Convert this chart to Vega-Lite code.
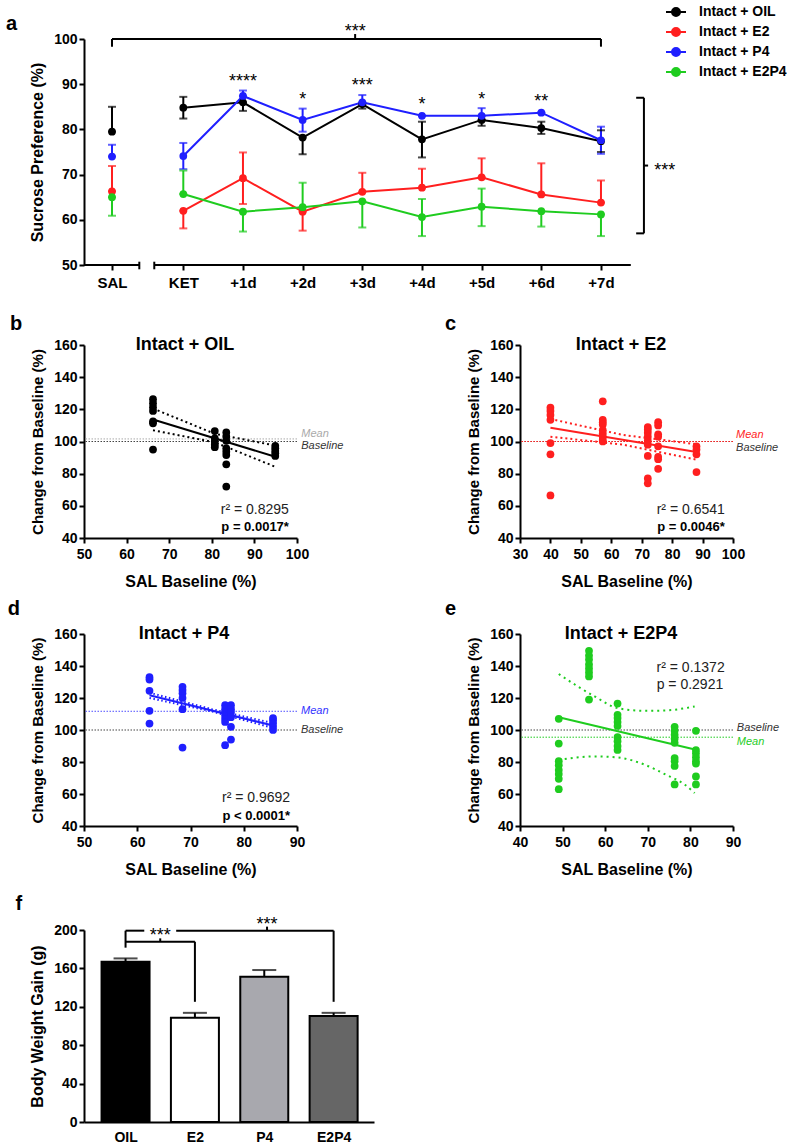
{
  "$schema": "https://vega.github.io/schema/vega-lite/v6.json",
  "background": "white",
  "padding": {"left": 5, "top": 5, "right": 0, "bottom": 0},
  "columns": 2,
  "align": "none",
  "bounds": "flush",
  "spacing": {"row": 0, "column": 146},
  "datasets": {
    "a": [
      {"g": "Intact + OIL", "d": -1, "m": 79.5, "lo": 79.5, "hi": 85.0},
      {"g": "Intact + OIL", "d": 0, "m": 84.8, "lo": 82.4, "hi": 87.2},
      {"g": "Intact + OIL", "d": 1, "m": 86.0, "lo": 84.1, "hi": 86.0},
      {"g": "Intact + OIL", "d": 2, "m": 78.2, "lo": 74.5, "hi": 78.2},
      {"g": "Intact + OIL", "d": 3, "m": 85.6, "lo": 84.6, "hi": 85.6},
      {"g": "Intact + OIL", "d": 4, "m": 77.8, "lo": 73.8, "hi": 81.7},
      {"g": "Intact + OIL", "d": 5, "m": 82.1, "lo": 80.8, "hi": 82.1},
      {"g": "Intact + OIL", "d": 6, "m": 80.3, "lo": 79.0, "hi": 81.7},
      {"g": "Intact + OIL", "d": 7, "m": 77.4, "lo": 75.0, "hi": 79.8},
      {"g": "Intact + E2", "d": -1, "m": 66.3, "lo": 66.3, "hi": 71.9},
      {"g": "Intact + E2", "d": 0, "m": 62.0, "lo": 58.1, "hi": 62.0},
      {"g": "Intact + E2", "d": 1, "m": 69.2, "lo": 63.5, "hi": 74.9},
      {"g": "Intact + E2", "d": 2, "m": 61.8, "lo": 57.6, "hi": 61.8},
      {"g": "Intact + E2", "d": 3, "m": 66.2, "lo": 66.2, "hi": 70.4},
      {"g": "Intact + E2", "d": 4, "m": 67.1, "lo": 67.1, "hi": 71.3},
      {"g": "Intact + E2", "d": 5, "m": 69.4, "lo": 69.4, "hi": 73.6},
      {"g": "Intact + E2", "d": 6, "m": 65.6, "lo": 65.6, "hi": 72.5},
      {"g": "Intact + E2", "d": 7, "m": 63.8, "lo": 63.8, "hi": 68.7},
      {"g": "Intact + P4", "d": -1, "m": 74.0, "lo": 74.0, "hi": 76.6},
      {"g": "Intact + P4", "d": 0, "m": 74.1, "lo": 71.2, "hi": 77.0},
      {"g": "Intact + P4", "d": 1, "m": 87.4, "lo": 87.4, "hi": 88.6},
      {"g": "Intact + P4", "d": 2, "m": 82.1, "lo": 79.5, "hi": 84.6},
      {"g": "Intact + P4", "d": 3, "m": 86.0, "lo": 86.0, "hi": 87.6},
      {"g": "Intact + P4", "d": 4, "m": 83.0, "lo": 83.0, "hi": 83.0},
      {"g": "Intact + P4", "d": 5, "m": 83.0, "lo": 83.0, "hi": 84.7},
      {"g": "Intact + P4", "d": 6, "m": 83.7, "lo": 83.7, "hi": 83.7},
      {"g": "Intact + P4", "d": 7, "m": 77.6, "lo": 74.6, "hi": 80.6},
      {"g": "Intact + E2P4", "d": -1, "m": 65.0, "lo": 60.9, "hi": 65.0},
      {"g": "Intact + E2P4", "d": 0, "m": 65.7, "lo": 65.7, "hi": 70.9},
      {"g": "Intact + E2P4", "d": 1, "m": 61.8, "lo": 57.4, "hi": 61.8},
      {"g": "Intact + E2P4", "d": 2, "m": 62.8, "lo": 62.8, "hi": 68.2},
      {"g": "Intact + E2P4", "d": 3, "m": 64.1, "lo": 58.3, "hi": 64.1},
      {"g": "Intact + E2P4", "d": 4, "m": 60.6, "lo": 56.4, "hi": 64.6},
      {"g": "Intact + E2P4", "d": 5, "m": 62.9, "lo": 58.6, "hi": 66.9},
      {"g": "Intact + E2P4", "d": 6, "m": 61.9, "lo": 58.5, "hi": 61.9},
      {"g": "Intact + E2P4", "d": 7, "m": 61.2, "lo": 56.4, "hi": 61.2}
    ],
    "f": [
      {"g": "OIL", "i": 0, "m": 167, "e": 170.4},
      {"g": "E2", "i": 1, "m": 108.5, "e": 113.7},
      {"g": "P4", "i": 2, "m": 151.3, "e": 158.3},
      {"g": "E2P4", "i": 3, "m": 110.3, "e": 113.7}
    ]
  },
  "concat": [
    {
      "width": 213, "height": 226,
      "layer": [
        {
          "data": {"values": [
            {"x": -1.5, "x2": -0.617, "y": 50, "y2": 50},
            {"x": -0.407, "x2": 7.5, "y": 50, "y2": 50},
            {"x": -0.617, "x2": -0.617, "y": 49.05, "y2": 50.73},
            {"x": -0.407, "x2": -0.407, "y": 49.05, "y2": 50.73},
            {"x": -1, "x2": 7, "y": 100, "y2": 100},
            {"x": -1, "x2": -1, "y": 100, "y2": 98.3},
            {"x": 7, "x2": 7, "y": 100, "y2": 98.3},
            {"x": 2.88, "x2": 2.88, "y": 100, "y2": 101.1},
            {"x": 7.72, "x2": 7.72, "y": 87.0, "y2": 57.0},
            {"x": 7.59, "x2": 7.72, "y": 87.0, "y2": 87.0},
            {"x": 7.59, "x2": 7.72, "y": 57.0, "y2": 57.0},
            {"x": 7.72, "x2": 7.79, "y": 72, "y2": 72}
          ]},
          "mark": {"type": "rule", "color": "#000", "strokeWidth": 2},
          "encoding": {
            "x": {"field": "x", "type": "quantitative",
              "scale": {"domain": [-1.5, -1, 0, 7.5], "range": [0, 28, 99.3, 546.8], "nice": false, "zero": false},
              "axis": {"title": null, "values": [-1, 0, 1, 2, 3, 4, 5, 6, 7], "tickCount": 30,
                "labelExpr": "datum.value == -1 ? 'SAL' : datum.value == 0 ? 'KET' : '+' + datum.value + 'd'",
                "domain": false, "labelPadding": 5, "labelFontSize": 15, "labelOverlap": false, "labelFlush": false}},
            "x2": {"field": "x2"},
            "y": {"field": "y", "type": "quantitative",
              "scale": {"domain": [50, 100], "nice": false, "zero": false},
              "axis": {"title": "Sucrose Preference (%)", "values": [50, 60, 70, 80, 90, 100], "tickCount": 30, "titleFontSize": 16, "labelOverlap": false}},
            "y2": {"field": "y2"}
          }
        },
        {
          "data": {"name": "a"},
          "mark": {"type": "rule", "strokeWidth": 2},
          "encoding": {
            "x": {"field": "d", "type": "quantitative", "scale": {"domain": [-1.5, -1, 0, 7.5], "range": [0, 28, 99.3, 546.8], "nice": false, "zero": false}},
            "y": {"field": "lo", "type": "quantitative", "scale": {"domain": [50, 100], "nice": false, "zero": false}},
            "y2": {"field": "hi"},
            "color": {"field": "g", "type": "nominal",
              "scale": {"domain": ["Intact + OIL", "Intact + E2", "Intact + P4", "Intact + E2P4"], "range": ["#000000", "#ff1f1f", "#1f1fff", "#1fcc1f"]},
              "legend": {"title": null, "orient": "none", "legendX": 585, "legendY": -34,
                "symbolType": "M-2,0H-0.8M0.8,0H2M-0.8,0A0.8,0.8,0,1,0,0.8,0A0.8,0.8,0,1,0,-0.8,0",
                "symbolSize": 100, "symbolStrokeWidth": 2, "labelFontSize": 14, "labelFontWeight": "bold",
                "labelColor": "#000", "labelOffset": 16, "rowPadding": 4, "padding": 0,
                "encode": {"symbols": {"update": {
                  "fill": {"signal": "datum.value == 'Intact + OIL' ? '#000000' : datum.value == 'Intact + E2' ? '#ff1f1f' : datum.value == 'Intact + P4' ? '#1f1fff' : '#1fcc1f'"},
                  "stroke": {"signal": "datum.value == 'Intact + OIL' ? '#000000' : datum.value == 'Intact + E2' ? '#ff1f1f' : datum.value == 'Intact + P4' ? '#1f1fff' : '#1fcc1f'"},
                  "strokeWidth": {"value": 2}, "opacity": {"value": 1}}}}}}
          }
        },
        {
          "data": {"name": "a"},
          "mark": {"type": "tick", "orient": "horizontal", "size": 8, "thickness": 2},
          "encoding": {
            "x": {"field": "d", "type": "quantitative", "scale": {"domain": [-1.5, -1, 0, 7.5], "range": [0, 28, 99.3, 546.8], "nice": false, "zero": false}},
            "y": {"field": "lo", "type": "quantitative", "scale": {"domain": [50, 100], "nice": false, "zero": false}},
            "color": {"field": "g", "type": "nominal", "scale": {"domain": ["Intact + OIL", "Intact + E2", "Intact + P4", "Intact + E2P4"], "range": ["#000000", "#ff1f1f", "#1f1fff", "#1fcc1f"]}}
          }
        },
        {
          "data": {"name": "a"},
          "mark": {"type": "tick", "orient": "horizontal", "size": 8, "thickness": 2},
          "encoding": {
            "x": {"field": "d", "type": "quantitative", "scale": {"domain": [-1.5, -1, 0, 7.5], "range": [0, 28, 99.3, 546.8], "nice": false, "zero": false}},
            "y": {"field": "hi", "type": "quantitative", "scale": {"domain": [50, 100], "nice": false, "zero": false}},
            "color": {"field": "g", "type": "nominal", "scale": {"domain": ["Intact + OIL", "Intact + E2", "Intact + P4", "Intact + E2P4"], "range": ["#000000", "#ff1f1f", "#1f1fff", "#1fcc1f"]}}
          }
        },
        {
          "data": {"name": "a"},
          "transform": [{"filter": "datum.d >= 0"}],
          "mark": {"type": "line", "strokeWidth": 2},
          "encoding": {
            "x": {"field": "d", "type": "quantitative", "scale": {"domain": [-1.5, -1, 0, 7.5], "range": [0, 28, 99.3, 546.8], "nice": false, "zero": false}},
            "y": {"field": "m", "type": "quantitative", "scale": {"domain": [50, 100], "nice": false, "zero": false}},
            "color": {"field": "g", "type": "nominal", "scale": {"domain": ["Intact + OIL", "Intact + E2", "Intact + P4", "Intact + E2P4"], "range": ["#000000", "#ff1f1f", "#1f1fff", "#1fcc1f"]}}
          }
        },
        {
          "data": {"name": "a"},
          "mark": {"type": "circle", "size": 60, "opacity": 1},
          "encoding": {
            "x": {"field": "d", "type": "quantitative", "scale": {"domain": [-1.5, -1, 0, 7.5], "range": [0, 28, 99.3, 546.8], "nice": false, "zero": false}},
            "y": {"field": "m", "type": "quantitative", "scale": {"domain": [50, 100], "nice": false, "zero": false}},
            "color": {"field": "g", "type": "nominal", "scale": {"domain": ["Intact + OIL", "Intact + E2", "Intact + P4", "Intact + E2P4"], "range": ["#000000", "#ff1f1f", "#1f1fff", "#1fcc1f"]}}
          }
        },
        {
          "data": {"values": [
            {"x": 2.88, "y": 100.4, "t": "***"},
            {"x": 1, "y": 89.3, "t": "****"},
            {"x": 2, "y": 85.5, "t": "*"},
            {"x": 3, "y": 88.6, "t": "***"},
            {"x": 4, "y": 84.4, "t": "*"},
            {"x": 5, "y": 85.5, "t": "*"},
            {"x": 6, "y": 84.9, "t": "**"},
            {"x": 8.07, "y": 69.7, "t": "***"}
          ]},
          "mark": {"type": "text", "fontSize": 18, "align": "center", "baseline": "alphabetic", "color": "#000"},
          "encoding": {
            "x": {"field": "x", "type": "quantitative", "scale": {"domain": [-1.5, -1, 0, 7.5], "range": [0, 28, 99.3, 546.8], "nice": false, "zero": false}},
            "y": {"field": "y", "type": "quantitative", "scale": {"domain": [50, 100], "nice": false, "zero": false}},
            "text": {"field": "t"}
          }
        },
        {
          "data": {"values": [{"x": -2.893, "y": 102, "t": "a"}]},
          "mark": {"type": "text", "fontSize": 20, "fontWeight": "bold", "align": "left", "baseline": "alphabetic", "color": "#000"},
          "encoding": {
            "x": {"field": "x", "type": "quantitative", "scale": {"domain": [-1.5, -1, 0, 7.5], "range": [0, 28, 99.3, 546.8], "nice": false, "zero": false}},
            "y": {"field": "y", "type": "quantitative", "scale": {"domain": [50, 100], "nice": false, "zero": false}},
            "text": {"field": "t"}
          }
        }
      ]
    },
    {"width": 1, "height": 226, "data": {"values": [{"s": 0}]}, "mark": {"type": "point", "opacity": 0}, "encoding": {}},
    {"width": 1, "height": 80, "data": {"values": [{"s": 0}]}, "mark": {"type": "point", "opacity": 0}, "encoding": {}},
    {"width": 1, "height": 80, "data": {"values": [{"s": 0}]}, "mark": {"type": "point", "opacity": 0}, "encoding": {}},
    {
      "width": 213, "height": 193,
      "layer": [
        {"data": {"values": [{"y": 100}]}, "mark": {"type": "rule", "color": "#444", "strokeDash": [1.5, 1.5], "strokeWidth": 1},
          "encoding": {"y": {"field": "y", "type": "quantitative", "scale": {"domain": [40, 160], "nice": false, "zero": false},
            "axis": {"title": "Change from Baseline (%)", "values": [40, 60, 80, 100, 120, 140, 160], "tickCount": 30, "titleFontSize": 15, "labelOverlap": false}}}},
        {"data": {"values": [{"y": 101.6}]}, "mark": {"type": "rule", "color": "#aaaaaa", "strokeDash": [1.5, 1.5], "strokeWidth": 1},
          "encoding": {"y": {"field": "y", "type": "quantitative", "scale": {"domain": [40, 160], "nice": false, "zero": false}}}},
        {"data": {"values": [
            {"k": "u", "x": 66.2, "y": 120.5}, {"k": "u", "x": 80.7, "y": 104.8}, {"k": "u", "x": 94.9, "y": 97.5},
            {"k": "l", "x": 66.2, "y": 107}, {"k": "l", "x": 80.7, "y": 99.5}, {"k": "l", "x": 94.9, "y": 84.3}]},
          "mark": {"type": "line", "color": "#000", "strokeWidth": 2, "strokeDash": [2, 3]},
          "encoding": {
            "x": {"field": "x", "type": "quantitative", "scale": {"domain": [50, 100], "nice": false, "zero": false},
              "axis": {"title": "SAL Baseline (%)", "values": [50, 60, 70, 80, 90, 100], "tickCount": 30, "labelOverlap": false, "labelFlush": false}},
            "y": {"field": "y", "type": "quantitative", "scale": {"domain": [40, 160], "nice": false, "zero": false}},
            "detail": {"field": "k"}}},
        {"data": {"values": [{"x": 66.2, "y": 113.7}, {"x": 94.9, "y": 90.5}]},
          "mark": {"type": "line", "color": "#000", "strokeWidth": 2},
          "encoding": {"x": {"field": "x", "type": "quantitative", "scale": {"domain": [50, 100], "nice": false, "zero": false}},
            "y": {"field": "y", "type": "quantitative", "scale": {"domain": [40, 160], "nice": false, "zero": false}}}},
        {"data": {"values": [
            {"x": 66.2, "y": 126.3}, {"x": 66.2, "y": 123.8}, {"x": 66.2, "y": 121.3}, {"x": 66.2, "y": 119}, {"x": 66.2, "y": 112.5}, {"x": 66.2, "y": 111.3}, {"x": 66.2, "y": 95},
            {"x": 80.7, "y": 106.5}, {"x": 80.7, "y": 102}, {"x": 80.7, "y": 100}, {"x": 80.7, "y": 98}, {"x": 80.7, "y": 96.5},
            {"x": 83.4, "y": 105.6}, {"x": 83.4, "y": 103}, {"x": 83.4, "y": 100.4}, {"x": 83.4, "y": 95.8}, {"x": 83.4, "y": 93.7}, {"x": 83.4, "y": 91.6}, {"x": 83.4, "y": 85.8}, {"x": 83.4, "y": 72},
            {"x": 94.9, "y": 97.3}, {"x": 94.9, "y": 95.8}, {"x": 94.9, "y": 94.1}, {"x": 94.9, "y": 92.7}, {"x": 94.9, "y": 91}]},
          "mark": {"type": "circle", "size": 60, "opacity": 1, "color": "#000"},
          "encoding": {"x": {"field": "x", "type": "quantitative", "scale": {"domain": [50, 100], "nice": false, "zero": false}},
            "y": {"field": "y", "type": "quantitative", "scale": {"domain": [40, 160], "nice": false, "zero": false}}}},
        {"data": {"values": [{"x": 73.7, "y": 160, "t": "Intact + OIL"}]},
          "mark": {"type": "text", "fontSize": 18, "fontWeight": "bold", "align": "center", "baseline": "middle", "color": "#000"},
          "encoding": {"x": {"field": "x", "type": "quantitative", "scale": {"domain": [50, 100], "nice": false, "zero": false}},
            "y": {"field": "y", "type": "quantitative", "scale": {"domain": [40, 160], "nice": false, "zero": false}}, "text": {"field": "t"}}},
        {"data": {"values": [{"x": 32.6, "y": 169.3, "t": "b"}]},
          "mark": {"type": "text", "fontSize": 20, "fontWeight": "bold", "align": "left", "baseline": "alphabetic", "color": "#000"},
          "encoding": {"x": {"field": "x", "type": "quantitative", "scale": {"domain": [50, 100], "nice": false, "zero": false}},
            "y": {"field": "y", "type": "quantitative", "scale": {"domain": [40, 160], "nice": false, "zero": false}}, "text": {"field": "t"}}},
        {"data": {"values": [{"x": 101, "y": 104.5, "t": "Mean"}]},
          "mark": {"type": "text", "fontSize": 11, "fontStyle": "italic", "align": "left", "baseline": "middle", "color": "#aaaaaa"},
          "encoding": {"x": {"field": "x", "type": "quantitative", "scale": {"domain": [50, 100], "nice": false, "zero": false}},
            "y": {"field": "y", "type": "quantitative", "scale": {"domain": [40, 160], "nice": false, "zero": false}}, "text": {"field": "t"}}},
        {"data": {"values": [{"x": 101, "y": 97, "t": "Baseline"}]},
          "mark": {"type": "text", "fontSize": 11, "fontStyle": "italic", "align": "left", "baseline": "middle", "color": "#333"},
          "encoding": {"x": {"field": "x", "type": "quantitative", "scale": {"domain": [50, 100], "nice": false, "zero": false}},
            "y": {"field": "y", "type": "quantitative", "scale": {"domain": [40, 160], "nice": false, "zero": false}}, "text": {"field": "t"}}},
        {"data": {"values": [{"x": 98.1, "y": 57.4, "t": "r² = 0.8295"}]},
          "mark": {"type": "text", "fontSize": 14, "align": "right", "baseline": "middle", "color": "#222"},
          "encoding": {"x": {"field": "x", "type": "quantitative", "scale": {"domain": [50, 100], "nice": false, "zero": false}},
            "y": {"field": "y", "type": "quantitative", "scale": {"domain": [40, 160], "nice": false, "zero": false}}, "text": {"field": "t"}}},
        {"data": {"values": [{"x": 98.1, "y": 47, "t": "p = 0.0017*"}]},
          "mark": {"type": "text", "fontSize": 13, "fontWeight": "bold", "align": "right", "baseline": "middle", "color": "#000"},
          "encoding": {"x": {"field": "x", "type": "quantitative", "scale": {"domain": [50, 100], "nice": false, "zero": false}},
            "y": {"field": "y", "type": "quantitative", "scale": {"domain": [40, 160], "nice": false, "zero": false}}, "text": {"field": "t"}}}
      ]
    },
    {
      "width": 213, "height": 193,
      "layer": [
        {"data": {"values": [{"y": 100}]}, "mark": {"type": "rule", "color": "#444", "strokeDash": [1.5, 1.5], "strokeWidth": 1},
          "encoding": {"y": {"field": "y", "type": "quantitative", "scale": {"domain": [40, 160], "nice": false, "zero": false},
            "axis": {"title": "Change from Baseline (%)", "values": [40, 60, 80, 100, 120, 140, 160], "tickCount": 30, "titleFontSize": 15, "labelOverlap": false}}}},
        {"data": {"values": [{"y": 100}]}, "mark": {"type": "rule", "color": "#ff1f1f", "strokeDash": [1.5, 1.5], "strokeWidth": 1},
          "encoding": {"y": {"field": "y", "type": "quantitative", "scale": {"domain": [40, 160], "nice": false, "zero": false}}}},
        {"data": {"values": [
            {"k": "u", "x": 40, "y": 114}, {"k": "u", "x": 64, "y": 104}, {"k": "u", "x": 88, "y": 98.3},
            {"k": "l", "x": 40, "y": 103}, {"k": "l", "x": 64, "y": 98}, {"k": "l", "x": 88, "y": 88.7}]},
          "mark": {"type": "line", "color": "#ff1f1f", "strokeWidth": 2, "strokeDash": [2, 3]},
          "encoding": {
            "x": {"field": "x", "type": "quantitative", "scale": {"domain": [30, 100], "nice": false, "zero": false},
              "axis": {"title": "SAL Baseline (%)", "values": [30, 40, 50, 60, 70, 80, 90, 100], "tickCount": 30, "labelOverlap": false, "labelFlush": false}},
            "y": {"field": "y", "type": "quantitative", "scale": {"domain": [40, 160], "nice": false, "zero": false}},
            "detail": {"field": "k"}}},
        {"data": {"values": [{"x": 40, "y": 108.5}, {"x": 88, "y": 93.5}]},
          "mark": {"type": "line", "color": "#ff1f1f", "strokeWidth": 2},
          "encoding": {"x": {"field": "x", "type": "quantitative", "scale": {"domain": [30, 100], "nice": false, "zero": false}},
            "y": {"field": "y", "type": "quantitative", "scale": {"domain": [40, 160], "nice": false, "zero": false}}}},
        {"data": {"values": [
            {"x": 40, "y": 121}, {"x": 40, "y": 119}, {"x": 40, "y": 116.5}, {"x": 40, "y": 113.5}, {"x": 40, "y": 99}, {"x": 40, "y": 92}, {"x": 40, "y": 66.5},
            {"x": 57.2, "y": 125}, {"x": 57.2, "y": 113.5}, {"x": 57.2, "y": 112}, {"x": 57.2, "y": 110.5}, {"x": 57.2, "y": 107}, {"x": 57.2, "y": 105}, {"x": 57.2, "y": 103}, {"x": 57.2, "y": 101}, {"x": 57.2, "y": 100},
            {"x": 72, "y": 109}, {"x": 72, "y": 107.5}, {"x": 72, "y": 105.5}, {"x": 72, "y": 103}, {"x": 72, "y": 100.5}, {"x": 72, "y": 98}, {"x": 72, "y": 91}, {"x": 72, "y": 77}, {"x": 72, "y": 74},
            {"x": 75.4, "y": 112}, {"x": 75.4, "y": 110}, {"x": 75.4, "y": 104.5}, {"x": 75.4, "y": 103}, {"x": 75.4, "y": 97}, {"x": 75.4, "y": 90.5}, {"x": 75.4, "y": 89}, {"x": 75.4, "y": 83},
            {"x": 88, "y": 97}, {"x": 88, "y": 95}, {"x": 88, "y": 92}, {"x": 88, "y": 81}]},
          "mark": {"type": "circle", "size": 60, "opacity": 1, "color": "#ff1f1f"},
          "encoding": {"x": {"field": "x", "type": "quantitative", "scale": {"domain": [30, 100], "nice": false, "zero": false}},
            "y": {"field": "y", "type": "quantitative", "scale": {"domain": [40, 160], "nice": false, "zero": false}}}},
        {"data": {"values": [{"x": 63.2, "y": 160, "t": "Intact + E2"}]},
          "mark": {"type": "text", "fontSize": 18, "fontWeight": "bold", "align": "center", "baseline": "middle", "color": "#000"},
          "encoding": {"x": {"field": "x", "type": "quantitative", "scale": {"domain": [30, 100], "nice": false, "zero": false}},
            "y": {"field": "y", "type": "quantitative", "scale": {"domain": [40, 160], "nice": false, "zero": false}}, "text": {"field": "t"}}},
        {"data": {"values": [{"x": 5.35, "y": 169.3, "t": "c"}]},
          "mark": {"type": "text", "fontSize": 20, "fontWeight": "bold", "align": "left", "baseline": "alphabetic", "color": "#000"},
          "encoding": {"x": {"field": "x", "type": "quantitative", "scale": {"domain": [30, 100], "nice": false, "zero": false}},
            "y": {"field": "y", "type": "quantitative", "scale": {"domain": [40, 160], "nice": false, "zero": false}}, "text": {"field": "t"}}},
        {"data": {"values": [{"x": 101, "y": 104.3, "t": "Mean"}]},
          "mark": {"type": "text", "fontSize": 11, "fontStyle": "italic", "align": "left", "baseline": "middle", "color": "#ff1f1f"},
          "encoding": {"x": {"field": "x", "type": "quantitative", "scale": {"domain": [30, 100], "nice": false, "zero": false}},
            "y": {"field": "y", "type": "quantitative", "scale": {"domain": [40, 160], "nice": false, "zero": false}}, "text": {"field": "t"}}},
        {"data": {"values": [{"x": 101, "y": 96, "t": "Baseline"}]},
          "mark": {"type": "text", "fontSize": 11, "fontStyle": "italic", "align": "left", "baseline": "middle", "color": "#333"},
          "encoding": {"x": {"field": "x", "type": "quantitative", "scale": {"domain": [30, 100], "nice": false, "zero": false}},
            "y": {"field": "y", "type": "quantitative", "scale": {"domain": [40, 160], "nice": false, "zero": false}}, "text": {"field": "t"}}},
        {"data": {"values": [{"x": 97.3, "y": 57.4, "t": "r² = 0.6541"}]},
          "mark": {"type": "text", "fontSize": 14, "align": "right", "baseline": "middle", "color": "#222"},
          "encoding": {"x": {"field": "x", "type": "quantitative", "scale": {"domain": [30, 100], "nice": false, "zero": false}},
            "y": {"field": "y", "type": "quantitative", "scale": {"domain": [40, 160], "nice": false, "zero": false}}, "text": {"field": "t"}}},
        {"data": {"values": [{"x": 97.3, "y": 47, "t": "p = 0.0046*"}]},
          "mark": {"type": "text", "fontSize": 13, "fontWeight": "bold", "align": "right", "baseline": "middle", "color": "#000"},
          "encoding": {"x": {"field": "x", "type": "quantitative", "scale": {"domain": [30, 100], "nice": false, "zero": false}},
            "y": {"field": "y", "type": "quantitative", "scale": {"domain": [40, 160], "nice": false, "zero": false}}, "text": {"field": "t"}}}
      ]
    },
    {"width": 1, "height": 96, "data": {"values": [{"s": 0}]}, "mark": {"type": "point", "opacity": 0}, "encoding": {}},
    {"width": 1, "height": 96, "data": {"values": [{"s": 0}]}, "mark": {"type": "point", "opacity": 0}, "encoding": {}},
    {
      "width": 213, "height": 192,
      "layer": [
        {"data": {"values": [{"y": 100}]}, "mark": {"type": "rule", "color": "#444", "strokeDash": [1.5, 1.5], "strokeWidth": 1},
          "encoding": {"y": {"field": "y", "type": "quantitative", "scale": {"domain": [40, 160], "nice": false, "zero": false},
            "axis": {"title": "Change from Baseline (%)", "values": [40, 60, 80, 100, 120, 140, 160], "tickCount": 30, "titleFontSize": 15, "labelOverlap": false}}}},
        {"data": {"values": [{"y": 111.7}]}, "mark": {"type": "rule", "color": "#4d4dff", "strokeDash": [1.5, 1.5], "strokeWidth": 1},
          "encoding": {"y": {"field": "y", "type": "quantitative", "scale": {"domain": [40, 160], "nice": false, "zero": false}}}},
        {"data": {"values": [
            {"k": "u", "x": 62.3, "y": 123.3}, {"k": "u", "x": 74, "y": 113}, {"k": "u", "x": 85.5, "y": 104.3},
            {"k": "l", "x": 62.3, "y": 120}, {"k": "l", "x": 74, "y": 111.6}, {"k": "l", "x": 85.5, "y": 101.3}]},
          "mark": {"type": "line", "color": "#1f1fff", "strokeWidth": 2, "strokeDash": [1.5, 2.5]},
          "encoding": {
            "x": {"field": "x", "type": "quantitative", "scale": {"domain": [50, 90], "nice": false, "zero": false},
              "axis": {"title": "SAL Baseline (%)", "values": [50, 60, 70, 80, 90], "tickCount": 30, "labelOverlap": false, "labelFlush": false}},
            "y": {"field": "y", "type": "quantitative", "scale": {"domain": [40, 160], "nice": false, "zero": false}},
            "detail": {"field": "k"}}},
        {"data": {"values": [{"x": 62.3, "y": 121.7}, {"x": 85.5, "y": 102.8}]},
          "mark": {"type": "line", "color": "#1f1fff", "strokeWidth": 2},
          "encoding": {"x": {"field": "x", "type": "quantitative", "scale": {"domain": [50, 90], "nice": false, "zero": false}},
            "y": {"field": "y", "type": "quantitative", "scale": {"domain": [40, 160], "nice": false, "zero": false}}}},
        {"data": {"values": [
            {"x": 62.3, "y": 133}, {"x": 62.3, "y": 131.5}, {"x": 62.3, "y": 124.5}, {"x": 62.3, "y": 112}, {"x": 62.3, "y": 104},
            {"x": 68.5, "y": 127}, {"x": 68.5, "y": 125}, {"x": 68.5, "y": 123}, {"x": 68.5, "y": 120}, {"x": 68.5, "y": 113}, {"x": 68.5, "y": 89},
            {"x": 76.5, "y": 115.5}, {"x": 76.5, "y": 113}, {"x": 76.5, "y": 111}, {"x": 76.5, "y": 109}, {"x": 76.5, "y": 107}, {"x": 76.5, "y": 105}, {"x": 76.5, "y": 90.5},
            {"x": 77.6, "y": 115.5}, {"x": 77.6, "y": 113}, {"x": 77.6, "y": 111}, {"x": 77.6, "y": 108}, {"x": 77.6, "y": 102}, {"x": 77.6, "y": 94},
            {"x": 85.5, "y": 107.5}, {"x": 85.5, "y": 106}, {"x": 85.5, "y": 104}, {"x": 85.5, "y": 102}, {"x": 85.5, "y": 100}]},
          "mark": {"type": "circle", "size": 60, "opacity": 1, "color": "#1f1fff"},
          "encoding": {"x": {"field": "x", "type": "quantitative", "scale": {"domain": [50, 90], "nice": false, "zero": false}},
            "y": {"field": "y", "type": "quantitative", "scale": {"domain": [40, 160], "nice": false, "zero": false}}}},
        {"data": {"values": [{"x": 68.8, "y": 160, "t": "Intact + P4"}]},
          "mark": {"type": "text", "fontSize": 18, "fontWeight": "bold", "align": "center", "baseline": "middle", "color": "#000"},
          "encoding": {"x": {"field": "x", "type": "quantitative", "scale": {"domain": [50, 90], "nice": false, "zero": false}},
            "y": {"field": "y", "type": "quantitative", "scale": {"domain": [40, 160], "nice": false, "zero": false}}, "text": {"field": "t"}}},
        {"data": {"values": [{"x": 35.7, "y": 171.9, "t": "d"}]},
          "mark": {"type": "text", "fontSize": 20, "fontWeight": "bold", "align": "left", "baseline": "alphabetic", "color": "#000"},
          "encoding": {"x": {"field": "x", "type": "quantitative", "scale": {"domain": [50, 90], "nice": false, "zero": false}},
            "y": {"field": "y", "type": "quantitative", "scale": {"domain": [40, 160], "nice": false, "zero": false}}, "text": {"field": "t"}}},
        {"data": {"values": [{"x": 90.75, "y": 111.7, "t": "Mean"}]},
          "mark": {"type": "text", "fontSize": 11, "fontStyle": "italic", "align": "left", "baseline": "middle", "color": "#3333ff"},
          "encoding": {"x": {"field": "x", "type": "quantitative", "scale": {"domain": [50, 90], "nice": false, "zero": false}},
            "y": {"field": "y", "type": "quantitative", "scale": {"domain": [40, 160], "nice": false, "zero": false}}, "text": {"field": "t"}}},
        {"data": {"values": [{"x": 90.75, "y": 100, "t": "Baseline"}]},
          "mark": {"type": "text", "fontSize": 11, "fontStyle": "italic", "align": "left", "baseline": "middle", "color": "#333"},
          "encoding": {"x": {"field": "x", "type": "quantitative", "scale": {"domain": [50, 90], "nice": false, "zero": false}},
            "y": {"field": "y", "type": "quantitative", "scale": {"domain": [40, 160], "nice": false, "zero": false}}, "text": {"field": "t"}}},
        {"data": {"values": [{"x": 88.7, "y": 57.3, "t": "r² = 0.9692"}]},
          "mark": {"type": "text", "fontSize": 14, "align": "right", "baseline": "middle", "color": "#222"},
          "encoding": {"x": {"field": "x", "type": "quantitative", "scale": {"domain": [50, 90], "nice": false, "zero": false}},
            "y": {"field": "y", "type": "quantitative", "scale": {"domain": [40, 160], "nice": false, "zero": false}}, "text": {"field": "t"}}},
        {"data": {"values": [{"x": 88.7, "y": 46.4, "t": "p < 0.0001*"}]},
          "mark": {"type": "text", "fontSize": 13, "fontWeight": "bold", "align": "right", "baseline": "middle", "color": "#000"},
          "encoding": {"x": {"field": "x", "type": "quantitative", "scale": {"domain": [50, 90], "nice": false, "zero": false}},
            "y": {"field": "y", "type": "quantitative", "scale": {"domain": [40, 160], "nice": false, "zero": false}}, "text": {"field": "t"}}}
      ]
    },
    {
      "width": 213, "height": 192,
      "layer": [
        {"data": {"values": [{"y": 100}]}, "mark": {"type": "rule", "color": "#444", "strokeDash": [1.5, 1.5], "strokeWidth": 1},
          "encoding": {"y": {"field": "y", "type": "quantitative", "scale": {"domain": [40, 160], "nice": false, "zero": false},
            "axis": {"title": "Change from Baseline (%)", "values": [40, 60, 80, 100, 120, 140, 160], "tickCount": 30, "titleFontSize": 15, "labelOverlap": false}}}},
        {"data": {"values": [{"y": 95.5}]}, "mark": {"type": "rule", "color": "#1fcc1f", "strokeDash": [1.5, 1.5], "strokeWidth": 1},
          "encoding": {"y": {"field": "y", "type": "quantitative", "scale": {"domain": [40, 160], "nice": false, "zero": false}}}},
        {"data": {"values": [
            {"k": "u", "x": 49.1, "y": 135}, {"k": "u", "x": 53.7, "y": 127}, {"k": "u", "x": 57.6, "y": 120.9}, {"k": "u", "x": 63, "y": 113.6}, {"k": "u", "x": 69.3, "y": 112}, {"k": "u", "x": 74, "y": 112.2}, {"k": "u", "x": 81, "y": 114.7},
            {"k": "l", "x": 49.1, "y": 81.4}, {"k": "l", "x": 57.6, "y": 83.5}, {"k": "l", "x": 63, "y": 82.8}, {"k": "l", "x": 69.3, "y": 78.3}, {"k": "l", "x": 74, "y": 72.4}, {"k": "l", "x": 78.7, "y": 65.8}, {"k": "l", "x": 81, "y": 60.6}]},
          "mark": {"type": "line", "color": "#1fcc1f", "strokeWidth": 2, "strokeDash": [2, 4], "interpolate": "monotone"},
          "encoding": {
            "x": {"field": "x", "type": "quantitative", "scale": {"domain": [40, 90], "nice": false, "zero": false},
              "axis": {"title": "SAL Baseline (%)", "values": [40, 50, 60, 70, 80, 90], "tickCount": 30, "labelOverlap": false, "labelFlush": false}},
            "y": {"field": "y", "type": "quantitative", "scale": {"domain": [40, 160], "nice": false, "zero": false}},
            "detail": {"field": "k"}}},
        {"data": {"values": [{"x": 49.1, "y": 108}, {"x": 81.3, "y": 87.6}]},
          "mark": {"type": "line", "color": "#1fcc1f", "strokeWidth": 2},
          "encoding": {"x": {"field": "x", "type": "quantitative", "scale": {"domain": [40, 90], "nice": false, "zero": false}},
            "y": {"field": "y", "type": "quantitative", "scale": {"domain": [40, 160], "nice": false, "zero": false}}}},
        {"data": {"values": [
            {"x": 49.1, "y": 107}, {"x": 49.1, "y": 91.5}, {"x": 49.1, "y": 80.5}, {"x": 49.1, "y": 78}, {"x": 49.1, "y": 75}, {"x": 49.1, "y": 72.5}, {"x": 49.1, "y": 69.5}, {"x": 49.1, "y": 63},
            {"x": 56.2, "y": 149.5}, {"x": 56.2, "y": 146.5}, {"x": 56.2, "y": 144}, {"x": 56.2, "y": 141}, {"x": 56.2, "y": 138.5}, {"x": 56.2, "y": 136}, {"x": 56.2, "y": 133.5}, {"x": 56.2, "y": 119},
            {"x": 62.9, "y": 116.5}, {"x": 62.9, "y": 109.5}, {"x": 62.9, "y": 107.5}, {"x": 62.9, "y": 105}, {"x": 62.9, "y": 102.5}, {"x": 62.9, "y": 95.5}, {"x": 62.9, "y": 93}, {"x": 62.9, "y": 90}, {"x": 62.9, "y": 87.5},
            {"x": 76.3, "y": 102}, {"x": 76.3, "y": 99.5}, {"x": 76.3, "y": 97}, {"x": 76.3, "y": 94.5}, {"x": 76.3, "y": 92}, {"x": 76.3, "y": 82.5}, {"x": 76.3, "y": 80.5}, {"x": 76.3, "y": 77.5}, {"x": 76.3, "y": 66},
            {"x": 81.3, "y": 99.5}, {"x": 81.3, "y": 87.5}, {"x": 81.3, "y": 85.5}, {"x": 81.3, "y": 83}, {"x": 81.3, "y": 80.5}, {"x": 81.3, "y": 79}, {"x": 81.3, "y": 71}, {"x": 81.3, "y": 66}]},
          "mark": {"type": "circle", "size": 60, "opacity": 1, "color": "#1fcc1f"},
          "encoding": {"x": {"field": "x", "type": "quantitative", "scale": {"domain": [40, 90], "nice": false, "zero": false}},
            "y": {"field": "y", "type": "quantitative", "scale": {"domain": [40, 160], "nice": false, "zero": false}}}},
        {"data": {"values": [{"x": 63.7, "y": 160, "t": "Intact + E2P4"}]},
          "mark": {"type": "text", "fontSize": 18, "fontWeight": "bold", "align": "center", "baseline": "middle", "color": "#000"},
          "encoding": {"x": {"field": "x", "type": "quantitative", "scale": {"domain": [40, 90], "nice": false, "zero": false}},
            "y": {"field": "y", "type": "quantitative", "scale": {"domain": [40, 160], "nice": false, "zero": false}}, "text": {"field": "t"}}},
        {"data": {"values": [{"x": 22.4, "y": 171.9, "t": "e"}]},
          "mark": {"type": "text", "fontSize": 20, "fontWeight": "bold", "align": "left", "baseline": "alphabetic", "color": "#000"},
          "encoding": {"x": {"field": "x", "type": "quantitative", "scale": {"domain": [40, 90], "nice": false, "zero": false}},
            "y": {"field": "y", "type": "quantitative", "scale": {"domain": [40, 160], "nice": false, "zero": false}}, "text": {"field": "t"}}},
        {"data": {"values": [{"x": 90.9, "y": 92.7, "t": "Mean"}]},
          "mark": {"type": "text", "fontSize": 11, "fontStyle": "italic", "align": "left", "baseline": "middle", "color": "#1fcc1f"},
          "encoding": {"x": {"field": "x", "type": "quantitative", "scale": {"domain": [40, 90], "nice": false, "zero": false}},
            "y": {"field": "y", "type": "quantitative", "scale": {"domain": [40, 160], "nice": false, "zero": false}}, "text": {"field": "t"}}},
        {"data": {"values": [{"x": 90.9, "y": 101.4, "t": "Baseline"}]},
          "mark": {"type": "text", "fontSize": 11, "fontStyle": "italic", "align": "left", "baseline": "middle", "color": "#333"},
          "encoding": {"x": {"field": "x", "type": "quantitative", "scale": {"domain": [40, 90], "nice": false, "zero": false}},
            "y": {"field": "y", "type": "quantitative", "scale": {"domain": [40, 160], "nice": false, "zero": false}}, "text": {"field": "t"}}},
        {"data": {"values": [{"x": 88.05, "y": 138.6, "t": "r² = 0.1372"}]},
          "mark": {"type": "text", "fontSize": 14, "align": "right", "baseline": "middle", "color": "#222"},
          "encoding": {"x": {"field": "x", "type": "quantitative", "scale": {"domain": [40, 90], "nice": false, "zero": false}},
            "y": {"field": "y", "type": "quantitative", "scale": {"domain": [40, 160], "nice": false, "zero": false}}, "text": {"field": "t"}}},
        {"data": {"values": [{"x": 87.7, "y": 128.1, "t": "p = 0.2921"}]},
          "mark": {"type": "text", "fontSize": 14, "align": "right", "baseline": "middle", "color": "#222"},
          "encoding": {"x": {"field": "x", "type": "quantitative", "scale": {"domain": [40, 90], "nice": false, "zero": false}},
            "y": {"field": "y", "type": "quantitative", "scale": {"domain": [40, 160], "nice": false, "zero": false}}, "text": {"field": "t"}}}
      ]
    },
    {"width": 1, "height": 104, "data": {"values": [{"s": 0}]}, "mark": {"type": "point", "opacity": 0}, "encoding": {}},
    {"width": 1, "height": 104, "data": {"values": [{"s": 0}]}, "mark": {"type": "point", "opacity": 0}, "encoding": {}},
    {
      "width": 290, "height": 192,
      "layer": [
        {"data": {"name": "f"},
          "mark": {"type": "bar", "width": 48, "orient": "vertical", "stroke": "#000", "strokeWidth": 2},
          "encoding": {
            "x": {"field": "i", "type": "quantitative", "scale": {"domain": [-0.527, 3.51], "nice": false, "zero": false},
              "axis": {"title": null, "values": [0, 1, 2, 3], "tickCount": 30, "labelExpr": "datum.value == 0 ? 'OIL' : datum.value == 1 ? 'E2' : datum.value == 2 ? 'P4' : 'E2P4'", "ticks": false, "labelPadding": 8, "labelOverlap": false, "labelFlush": false}},
            "y": {"field": "m", "type": "quantitative", "scale": {"domain": [0, 200], "nice": false},
              "axis": {"title": "Body Weight Gain (g)", "values": [0, 40, 80, 120, 160, 200], "tickCount": 30, "labelOverlap": false}},
            "fill": {"field": "g", "type": "nominal", "scale": {"domain": ["OIL", "E2", "P4", "E2P4"], "range": ["#000000", "#ffffff", "#a8a8ae", "#666666"]}, "legend": null}
          }},
        {"data": {"name": "f"},
          "mark": {"type": "rule", "color": "#000", "strokeWidth": 2},
          "encoding": {
            "x": {"field": "i", "type": "quantitative", "scale": {"domain": [-0.527, 3.51], "nice": false, "zero": false}},
            "y": {"field": "m", "type": "quantitative", "scale": {"domain": [0, 200], "nice": false}},
            "y2": {"field": "e"}}},
        {"data": {"name": "f"},
          "mark": {"type": "tick", "orient": "horizontal", "size": 24, "thickness": 2, "color": "#000"},
          "encoding": {
            "x": {"field": "i", "type": "quantitative", "scale": {"domain": [-0.527, 3.51], "nice": false, "zero": false}},
            "y": {"field": "e", "type": "quantitative", "scale": {"domain": [0, 200], "nice": false}}}},
        {"data": {"values": [
            {"i": 0, "i2": 0, "y": 181.6, "y2": 199.3},
            {"i": 0, "i2": 0.27, "y": 199.3, "y2": 199.3},
            {"i": 0.73, "i2": 3, "y": 199.3, "y2": 199.3},
            {"i": 3, "i2": 3, "y": 199.3, "y2": 125.2},
            {"i": 0, "i2": 1, "y": 187.8, "y2": 187.8},
            {"i": 1, "i2": 1, "y": 187.8, "y2": 125.2},
            {"i": 0.5, "i2": 0.5, "y": 187.8, "y2": 191.3},
            {"i": 2.04, "i2": 2.04, "y": 199.3, "y2": 203.5}]},
          "mark": {"type": "rule", "color": "#000", "strokeWidth": 2},
          "encoding": {
            "x": {"field": "i", "type": "quantitative", "scale": {"domain": [-0.527, 3.51], "nice": false, "zero": false}},
            "x2": {"field": "i2"},
            "y": {"field": "y", "type": "quantitative", "scale": {"domain": [0, 200], "nice": false}},
            "y2": {"field": "y2"}}},
        {"data": {"values": [{"i": 0.5, "y": 188.2, "t": "***"}, {"i": 2.04, "y": 199.7, "t": "***"}]},
          "mark": {"type": "text", "fontSize": 18, "align": "center", "baseline": "alphabetic", "color": "#000"},
          "encoding": {
            "x": {"field": "i", "type": "quantitative", "scale": {"domain": [-0.527, 3.51], "nice": false, "zero": false}},
            "y": {"field": "y", "type": "quantitative", "scale": {"domain": [0, 200], "nice": false}},
            "text": {"field": "t"}}},
        {"data": {"values": [{"i": -1.585, "y": 220.8, "t": "f"}]},
          "mark": {"type": "text", "fontSize": 20, "fontWeight": "bold", "align": "left", "baseline": "alphabetic", "color": "#000"},
          "encoding": {
            "x": {"field": "i", "type": "quantitative", "scale": {"domain": [-0.527, 3.51], "nice": false, "zero": false}},
            "y": {"field": "y", "type": "quantitative", "scale": {"domain": [0, 200], "nice": false}},
            "text": {"field": "t"}}}
      ]
    },
    {"width": 1, "height": 192, "data": {"values": [{"s": 0}]}, "mark": {"type": "point", "opacity": 0}, "encoding": {}}
  ],
  "config": {
    "font": "Liberation Sans",
    "view": {"stroke": null},
    "axis": {
      "labelFontSize": 14, "labelFontWeight": "bold", "labelColor": "#000",
      "titleFontSize": 16, "titleFontWeight": "bold", "titleColor": "#000",
      "domainColor": "#000", "domainWidth": 2, "tickColor": "#000", "tickWidth": 2, "tickSize": 5,
      "grid": false, "labelFlush": false, "labelOverlap": false
    },
    "axisY": {"labelPadding": 2, "titlePadding": 8},
    "axisX": {"labelPadding": 4, "titlePadding": 12}
  }
}
